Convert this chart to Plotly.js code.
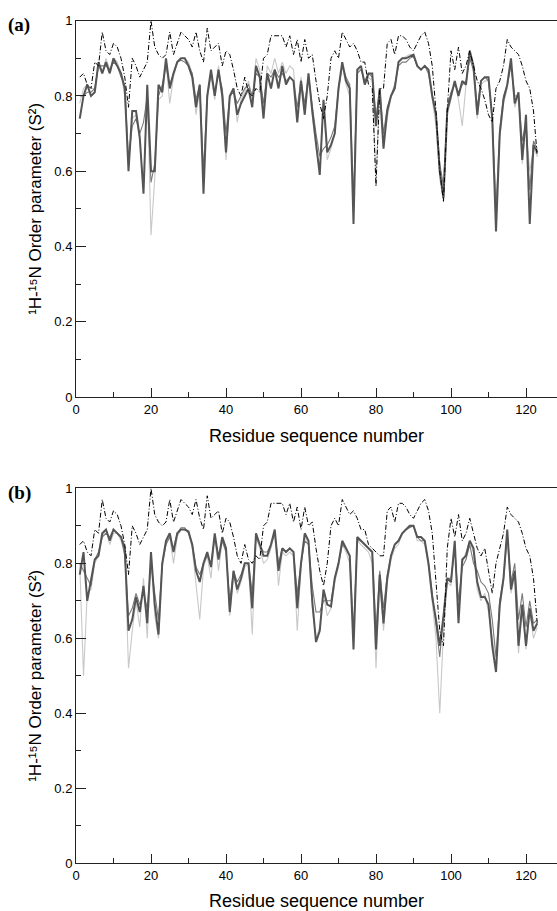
<!DOCTYPE html>
<html><head><meta charset="utf-8">
<script src="https://cdn.plot.ly/plotly-3.0.1.min.js"></script>
<style>html,body{margin:0;padding:0;background:#fff}#plot{width:557px;height:911px}</style>
</head><body><div id="plot"></div>
<script>
// Residue numbers 1..123
const residues = Array.from({length:123},(_, i)=>i+1);

// Panel (a)
const expA = [0.85,0.86,0.83,0.82,0.89,0.88,0.97,0.92,0.91,0.94,0.93,0.90,0.85,0.77,0.90,0.88,0.85,0.87,0.89,1.00,
0.93,0.91,0.90,0.91,0.97,0.91,0.94,0.97,0.96,0.95,0.93,0.97,0.92,0.89,0.98,0.92,0.93,0.94,0.88,0.92,
0.91,0.87,0.82,0.80,0.85,0.81,0.80,0.82,0.81,0.90,0.91,0.96,0.96,0.96,0.96,0.93,0.96,0.91,0.95,0.89,
0.95,0.90,0.91,0.84,0.78,0.74,0.80,0.90,0.92,0.90,0.97,0.95,0.93,0.94,0.92,0.89,0.89,0.83,0.82,0.56,
0.82,0.82,0.94,0.95,0.91,0.96,0.96,0.95,0.93,0.92,0.94,0.96,0.97,0.94,0.88,0.76,0.60,0.52,0.76,0.92,
0.87,0.93,0.86,0.88,0.92,0.88,0.84,0.82,0.79,0.75,0.73,0.82,0.84,0.88,0.95,0.93,0.92,0.91,0.88,0.84,
0.82,0.76,0.64];
const darkA = [0.74,0.80,0.83,0.80,0.81,0.89,0.86,0.89,0.86,0.90,0.88,0.86,0.82,0.60,0.76,0.76,0.69,0.54,0.83,0.60,
0.60,0.83,0.81,0.90,0.82,0.86,0.89,0.90,0.90,0.88,0.85,0.77,0.83,0.54,0.80,0.87,0.80,0.87,0.80,0.65,
0.80,0.82,0.75,0.78,0.80,0.82,0.77,0.88,0.85,0.74,0.86,0.82,0.87,0.82,0.88,0.83,0.85,0.84,0.73,0.84,
0.75,0.86,0.76,0.68,0.59,0.79,0.65,0.67,0.70,0.82,0.89,0.84,0.82,0.46,0.87,0.88,0.83,0.86,0.86,0.72,
0.82,0.66,0.76,0.80,0.82,0.89,0.90,0.90,0.905,0.91,0.88,0.87,0.88,0.87,0.80,0.75,0.60,0.53,0.76,0.80,
0.84,0.80,0.84,0.83,0.92,0.88,0.75,0.84,0.85,0.85,0.74,0.44,0.70,0.79,0.83,0.90,0.78,0.81,0.63,0.75,
0.46,0.67,0.65];
const midA = [0.80,0.80,0.81,0.81,0.82,0.88,0.88,0.88,0.87,0.89,0.88,0.85,0.83,0.63,0.72,0.74,0.70,0.73,0.80,0.57,
0.62,0.80,0.83,0.88,0.83,0.86,0.89,0.895,0.89,0.88,0.86,0.79,0.83,0.60,0.80,0.86,0.81,0.86,0.82,0.70,
0.80,0.81,0.78,0.80,0.82,0.83,0.80,0.86,0.85,0.78,0.86,0.85,0.87,0.85,0.86,0.84,0.85,0.84,0.77,0.84,
0.78,0.85,0.77,0.70,0.64,0.66,0.67,0.69,0.72,0.82,0.88,0.85,0.83,0.52,0.86,0.87,0.84,0.86,0.85,0.74,
0.82,0.70,0.77,0.80,0.83,0.88,0.89,0.89,0.90,0.905,0.88,0.87,0.88,0.86,0.80,0.75,0.62,0.56,0.77,0.81,
0.83,0.81,0.83,0.84,0.90,0.87,0.77,0.84,0.85,0.84,0.75,0.50,0.71,0.80,0.83,0.88,0.80,0.80,0.68,0.73,
0.55,0.68,0.66];
const lightA = [0.78,0.82,0.83,0.82,0.82,0.88,0.86,0.90,0.87,0.90,0.89,0.86,0.80,0.62,0.74,0.75,0.68,0.56,0.82,0.43,
0.58,0.79,0.80,0.89,0.78,0.85,0.89,0.90,0.90,0.89,0.86,0.75,0.82,0.56,0.79,0.85,0.79,0.88,0.80,0.63,
0.79,0.82,0.73,0.79,0.81,0.84,0.79,0.90,0.87,0.77,0.88,0.86,0.90,0.86,0.89,0.86,0.88,0.87,0.75,0.85,
0.77,0.86,0.75,0.66,0.60,0.77,0.63,0.66,0.70,0.81,0.88,0.83,0.80,0.50,0.86,0.88,0.83,0.85,0.84,0.58,
0.81,0.68,0.74,0.80,0.82,0.89,0.90,0.905,0.91,0.91,0.88,0.87,0.88,0.86,0.79,0.72,0.58,0.52,0.75,0.79,
0.84,0.79,0.72,0.83,0.91,0.86,0.74,0.83,0.84,0.84,0.73,0.46,0.69,0.78,0.82,0.89,0.77,0.80,0.62,0.72,
0.60,0.66,0.64];

// Panel (b)
const expB = [0.85,0.86,0.83,0.82,0.89,0.88,0.97,0.92,0.91,0.94,0.93,0.90,0.85,0.77,0.90,0.88,0.85,0.87,0.89,1.00,
0.93,0.91,0.90,0.91,0.97,0.91,0.94,0.97,0.96,0.95,0.93,0.97,0.92,0.89,0.98,0.92,0.93,0.94,0.88,0.92,
0.91,0.87,0.82,0.80,0.85,0.81,0.80,0.82,0.81,0.90,0.91,0.96,0.96,0.96,0.96,0.93,0.96,0.91,0.95,0.89,
0.95,0.90,0.91,0.84,0.78,0.74,0.80,0.90,0.92,0.90,0.97,0.95,0.93,0.94,0.92,0.89,0.89,0.85,0.84,0.83,
0.82,0.82,0.94,0.95,0.91,0.96,0.96,0.95,0.93,0.92,0.94,0.96,0.97,0.94,0.88,0.76,0.62,0.58,0.84,0.92,
0.87,0.93,0.86,0.88,0.92,0.88,0.84,0.82,0.84,0.78,0.72,0.80,0.84,0.88,0.95,0.93,0.92,0.91,0.88,0.84,
0.82,0.76,0.64];
const darkB = [0.77,0.83,0.70,0.75,0.81,0.82,0.88,0.89,0.86,0.89,0.88,0.87,0.84,0.62,0.65,0.71,0.67,0.74,0.64,0.83,
0.69,0.61,0.80,0.86,0.88,0.83,0.88,0.89,0.89,0.885,0.85,0.78,0.75,0.80,0.83,0.79,0.88,0.81,0.87,0.84,
0.67,0.78,0.73,0.76,0.80,0.80,0.68,0.88,0.85,0.82,0.82,0.85,0.89,0.78,0.84,0.83,0.84,0.83,0.68,0.80,
0.88,0.86,0.70,0.59,0.62,0.73,0.69,0.685,0.76,0.80,0.86,0.84,0.82,0.57,0.87,0.86,0.85,0.84,0.83,0.57,
0.77,0.64,0.76,0.82,0.85,0.86,0.88,0.89,0.90,0.90,0.87,0.87,0.86,0.80,0.71,0.65,0.58,0.66,0.76,0.75,
0.86,0.64,0.81,0.82,0.86,0.84,0.75,0.71,0.71,0.69,0.58,0.51,0.69,0.76,0.89,0.73,0.78,0.58,0.69,0.58,
0.68,0.62,0.64];
const midB = [0.80,0.78,0.76,0.74,0.81,0.83,0.87,0.88,0.87,0.89,0.88,0.87,0.82,0.66,0.68,0.72,0.69,0.72,0.68,0.80,
0.72,0.65,0.80,0.85,0.87,0.84,0.88,0.895,0.895,0.88,0.85,0.79,0.77,0.80,0.82,0.80,0.87,0.82,0.86,0.83,
0.70,0.78,0.75,0.77,0.80,0.80,0.72,0.87,0.85,0.83,0.83,0.85,0.88,0.80,0.84,0.83,0.84,0.83,0.72,0.80,
0.86,0.85,0.74,0.67,0.67,0.70,0.70,0.70,0.76,0.80,0.85,0.84,0.82,0.62,0.86,0.86,0.85,0.84,0.83,0.62,
0.78,0.68,0.77,0.82,0.85,0.86,0.88,0.89,0.895,0.90,0.87,0.86,0.86,0.80,0.72,0.64,0.55,0.66,0.76,0.76,
0.84,0.70,0.79,0.81,0.85,0.80,0.78,0.75,0.74,0.72,0.65,0.55,0.70,0.76,0.88,0.75,0.80,0.65,0.72,0.63,
0.70,0.64,0.65];
const lightB = [0.80,0.50,0.72,0.73,0.80,0.82,0.87,0.89,0.85,0.88,0.88,0.86,0.83,0.52,0.62,0.70,0.63,0.76,0.60,0.82,
0.66,0.60,0.79,0.85,0.87,0.80,0.87,0.89,0.89,0.88,0.84,0.75,0.65,0.79,0.82,0.76,0.87,0.78,0.86,0.83,
0.66,0.77,0.72,0.75,0.79,0.80,0.61,0.87,0.84,0.80,0.81,0.84,0.88,0.74,0.83,0.82,0.83,0.82,0.62,0.79,
0.87,0.85,0.68,0.60,0.63,0.72,0.66,0.68,0.75,0.79,0.85,0.83,0.80,0.60,0.86,0.85,0.84,0.83,0.80,0.52,
0.76,0.62,0.75,0.81,0.84,0.85,0.88,0.89,0.90,0.90,0.86,0.86,0.85,0.79,0.69,0.60,0.40,0.62,0.75,0.74,
0.85,0.66,0.80,0.83,0.86,0.83,0.73,0.70,0.72,0.67,0.60,0.53,0.68,0.75,0.87,0.72,0.77,0.56,0.68,0.57,
0.67,0.60,0.63];

const xTickVals = [0,20,40,60,80,100,120];
const yTickVals = [0,0.2,0.4,0.6,0.8,1];
const yTickText = ['0','0.2','0.4','0.6','0.8','1'];
const xTitle = 'Residue sequence number';
const yTitle = '\u00B9H-\u00B9\u2075N Order parameter (S\u00B2)';
const panelLabels = ['(a)','(b)'];

function tr(y, xa, ya, color, width, dash){
  return {x: residues, y: y, xaxis: xa, yaxis: ya, type:'scatter', mode:'lines',
    line:{color: color, width: width, dash: dash||'solid'}, hoverinfo:'skip', showlegend:false};
}
const DD = '5px,2px,1px,2px';
const data = [
  tr(lightA,'x','y','#c8c8c8',1.1), tr(midA,'x','y','#7a7a7a',1.1), tr(darkA,'x','y','#555555',2), tr(expA,'x','y','#000000',1,DD),
  tr(lightB,'x2','y2','#c8c8c8',1.1), tr(midB,'x2','y2','#7a7a7a',1.1), tr(darkB,'x2','y2','#555555',2), tr(expB,'x2','y2','#000000',1,DD)
];

const W = 557, H = 911;
const xLeft = 76/W;
const xMax = (557-76)/3.75;
const font = {family:'Liberation Sans, Arial, sans-serif', size:13, color:'#000'};
function xax(anchor){
  return {domain:[xLeft,1], anchor:anchor, range:[0,xMax], showgrid:false, zeroline:false,
    showline:true, linecolor:'#222', linewidth:1, mirror:true,
    ticks:'inside', ticklen:9, tickwidth:1, tickcolor:'#222',
    tickvals:xTickVals, ticktext:xTickVals.map(String), tickfont:font,
    minor:{ticks:'inside', ticklen:5, tickwidth:1, tickcolor:'#222', tickvals:[10,30,50,70,90,110,130]},
    title:{text:xTitle, font:{family:'Liberation Sans, Arial, sans-serif', size:18, color:'#000'}, standoff:13},
    fixedrange:true};
}
function yax(anchor, dom){
  return {domain:dom, anchor:anchor, range:[0,1], showgrid:false, zeroline:false,
    showline:true, linecolor:'#222', linewidth:1,
    ticks:'inside', ticklen:10, tickwidth:1, tickcolor:'#222',
    tickvals:yTickVals, ticktext:yTickText, tickfont:font,
    minor:{ticks:'inside', ticklen:5, tickwidth:1, tickcolor:'#222', tickvals:[0.1,0.3,0.5,0.7,0.9]},
    title:{text:yTitle, font:{family:'Liberation Sans, Arial, sans-serif', size:17, color:'#000'}, standoff:8},
    fixedrange:true};
}
const labelFont = {family:'Liberation Serif, Times New Roman, serif', size:19, color:'#000', weight:'bold'};
const layout = {
  width:W, height:H, margin:{l:0,r:0,t:0,b:0}, paper_bgcolor:'#fff', plot_bgcolor:'#fff',
  showlegend:false,
  xaxis: xax('y'), yaxis: yax('x',[1-397/H, 1-20.7/H]),
  xaxis2: xax('y2'), yaxis2: yax('x2',[1-863.3/H, 1-488.3/H]),
  annotations:[
    {text:panelLabels[0], xref:'paper', yref:'paper', x:6/W, y:1-25/H, xanchor:'left', yanchor:'middle', showarrow:false, font:labelFont},
    {text:panelLabels[1], xref:'paper', yref:'paper', x:6/W, y:1-493/H, xanchor:'left', yanchor:'middle', showarrow:false, font:labelFont}
  ]
};
Plotly.newPlot('plot', data, layout, {staticPlot:true, displayModeBar:false});
</script></body></html>
